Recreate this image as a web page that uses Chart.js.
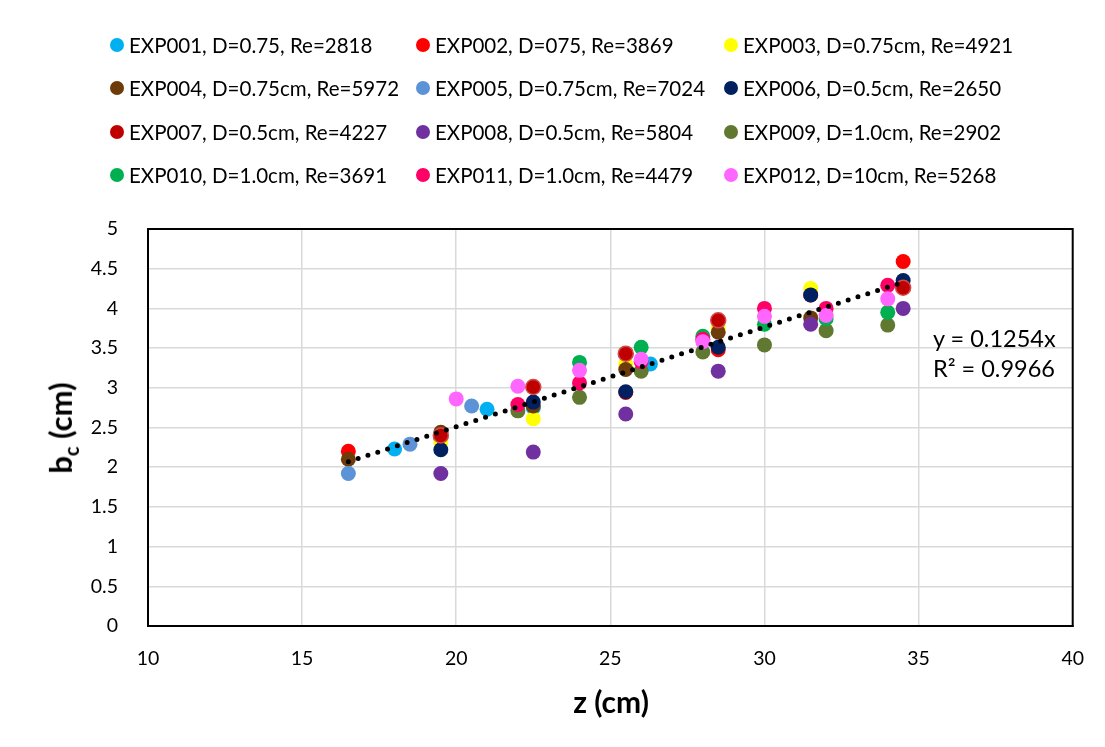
<!DOCTYPE html>
<html>
<head>
<meta charset="utf-8">
<script src="https://cdn.jsdelivr.net/npm/chart.js@4"></script>
<style>
  body { margin: 0; background: #fff; }
  #wrap { position: relative; width: 1105px; height: 747px; font-family: "Lato", sans-serif; color: #000; }
  #wrap canvas { position: absolute; left: 0; top: 0; }
  #legend { position: absolute; left: 110px; top: 23px; display: grid;
            grid-template-columns: 306px 308px 300px; grid-auto-rows: 43.5px; align-items: center;
            font-size: 20.5px; }
  .item { display: flex; align-items: center; white-space: nowrap; }
  .dot { width: 14px; height: 14px; border-radius: 50%; margin-right: 5px; flex: none; }
  .ytitle { position: absolute; left: 62px; top: 428px; transform: translate(-50%, -50%) rotate(-90deg);
            font-weight: bold; font-size: 31px; white-space: nowrap; }
  .ytitle sub { font-size: 20px; }
  .xtitle { position: absolute; left: 611px; top: 701px; transform: translate(-50%, -50%);
            font-weight: bold; font-size: 30px; white-space: nowrap; }
  .eq { position: absolute; left: 933px; font-size: 23.5px; white-space: nowrap; transform: translateY(-50%); }
</style>
</head>
<body>
<div id="wrap">
  <canvas id="mygraph" width="1105" height="747"></canvas>
  <div id="legend"></div>
  <div class="ytitle">b<sub>c</sub> (cm)</div>
  <div class="xtitle">z (cm)</div>
  <div class="eq" style="top:338px">y = 0.1254x</div>
  <div class="eq" style="top:368px">R² = 0.9966</div>
</div>
<script>
// [z, bc] pairs per experiment
const exp001 = [[18, 2.23], [21, 2.73], [22.5, 2.75], [26.3, 3.30]];
const exp002 = [[16.5, 2.20], [19.5, 2.37], [25.5, 2.94], [28.5, 3.48], [31.5, 4.17], [34.5, 4.59]];
const exp003 = [[19.5, 2.31], [22.5, 2.61], [25.5, 3.30], [28.5, 3.76], [31.5, 4.25]];
const exp004 = [[16.5, 2.10], [19.5, 2.44], [22.5, 2.77], [25.5, 3.23], [28.5, 3.70], [31.5, 3.88]];
const exp005 = [[16.5, 1.92], [18.5, 2.29], [20.5, 2.77]];
const exp006 = [[19.5, 2.22], [22.5, 2.82], [25.5, 2.95], [28.5, 3.51], [31.5, 4.17], [34.5, 4.35]];
const exp007 = [[19.5, 2.40], [22.5, 3.01], [25.5, 3.43], [28.5, 3.85], [34.5, 4.26]];
const exp008 = [[19.5, 1.92], [22.5, 2.19], [25.5, 2.67], [28.5, 3.21], [31.5, 3.80], [34.5, 4.00]];
const exp009 = [[22, 2.71], [24, 2.88], [26, 3.21], [28, 3.45], [30, 3.54], [32, 3.72], [34, 3.79]];
const exp010 = [[24, 3.32], [26, 3.51], [28, 3.65], [30, 3.80], [32, 3.87], [34, 3.95]];
const exp011 = [[22, 2.79], [24, 3.06], [26, 3.33], [28, 3.61], [30, 4.00], [32, 4.00], [34, 4.29]];
const exp012 = [[20, 2.86], [22, 3.02], [24, 3.22], [26, 3.36], [28, 3.58], [30, 3.90], [32, 3.91], [34, 4.12]];

const labels = ["EXP001, D=0.75, Re=2818", "EXP002, D=075, Re=3869", "EXP003, D=0.75cm, Re=4921",
  "EXP004, D=0.75cm, Re=5972", "EXP005, D=0.75cm, Re=7024", "EXP006, D=0.5cm, Re=2650",
  "EXP007, D=0.5cm, Re=4227", "EXP008, D=0.5cm, Re=5804", "EXP009, D=1.0cm, Re=2902",
  "EXP010, D=1.0cm, Re=3691", "EXP011, D=1.0cm, Re=4479", "EXP012, D=10cm, Re=5268"];
const colors = ["#00B0F0", "#FF0000", "#FFFF00", "#6E3B0B", "#5B93D6", "#002060",
  "#C00000", "#7030A0", "#607830", "#00B050", "#FF0066", "#FF66FF"];

// linear trendline y = 0.1254x, end points
const trendX = [16.5, 34.5];
const trendY = [2.07, 4.33];

const series = [exp001, exp002, exp003, exp004, exp005, exp006, exp007, exp008, exp009, exp010, exp011, exp012];

var datasets = series.map((s, i) => ({
  label: labels[i],
  data: s.map(p => ({x: p[0], y: p[1]})),
  backgroundColor: colors[i],
  borderColor: i == 6 ? "#D24A4A" : colors[i],
  borderWidth: i == 6 ? 1.5 : 0,
  pointRadius: 7.5,
  order: 12 - i
}));

datasets.push({
  label: "trend",
  type: "line",
  data: trendX.map((x, i) => ({x: x, y: trendY[i]})),
  borderColor: "#000",
  borderWidth: 5,
  borderDash: [0, 10.3],
  borderCapStyle: "round",
  pointRadius: 0,
  fill: false,
  order: 0
});

// legend in a 3 column grid
const legend = document.getElementById("legend");
labels.forEach((t, i) => {
  const item = document.createElement("div");
  item.className = "item";
  item.innerHTML = '<span class="dot" style="background:' + colors[i] + '"></span>' + t;
  legend.appendChild(item);
});

const plotBorder = {
  id: "plotBorder",
  afterDatasetsDraw(chart) {
    const a = chart.chartArea, c = chart.ctx;
    c.save();
    c.strokeStyle = "#000";
    c.lineWidth = 2;
    c.strokeRect(a.left, a.top, a.right - a.left, a.bottom - a.top);
    c.restore();
  }
};

new Chart(document.getElementById("mygraph"), {
  type: "scatter",
  data: { datasets: datasets },
  plugins: [plotBorder],
  options: {
    responsive: false,
    animation: false,
    layout: { padding: { left: 0, top: 229, right: 31, bottom: 0 } },
    plugins: { legend: { display: false }, tooltip: { enabled: false } },
    scales: {
      x: {
        type: "linear", min: 10, max: 40,
        afterFit: s => { s.height = 121; },
        ticks: { stepSize: 5, padding: 21, color: "#000", font: { family: "Lato", size: 19.5 } },
        grid: { color: "#d9d9d9", lineWidth: 1.5, drawTicks: false },
        border: { color: "#000", width: 2 }
      },
      y: {
        min: 0, max: 5,
        afterFit: s => { s.width = 148; },
        ticks: { stepSize: 0.5, padding: 30, color: "#000", font: { family: "Lato", size: 19.5 },
                 callback: v => String(v) },
        grid: { color: "#d9d9d9", lineWidth: 1.5, drawTicks: false },
        border: { color: "#000", width: 2 }
      }
    }
  }
});
</script>
</body>
</html>
